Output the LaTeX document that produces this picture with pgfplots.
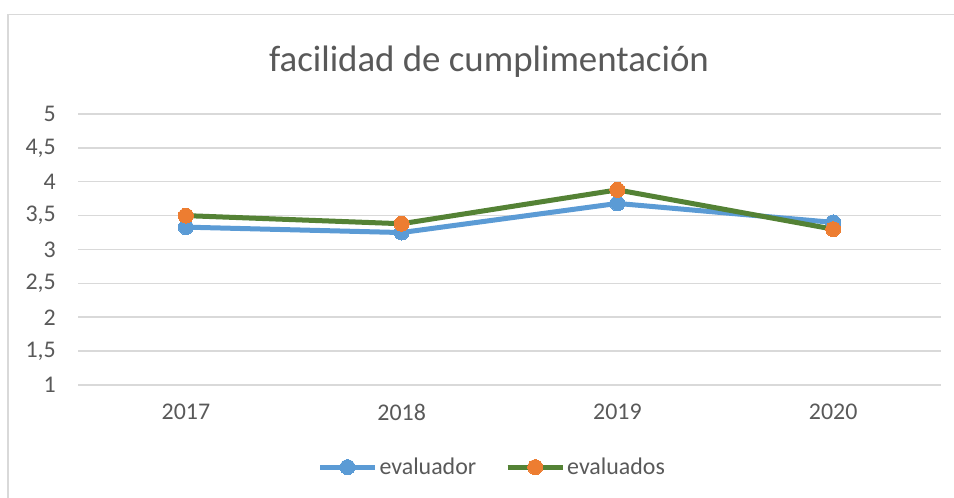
\documentclass[border=0pt]{standalone}
\usepackage{pgfplots}
\pgfplotsset{compat=1.18}
\usepackage{fontspec}
\setmainfont{Carlito}
\definecolor{cblue}{HTML}{5B9BD5}
\definecolor{cgreen}{HTML}{548235}
\definecolor{corange}{HTML}{ED7D31}
\definecolor{ctext}{HTML}{595959}
\definecolor{cgrid}{HTML}{D9D9D9}
\begin{document}
\begin{tikzpicture}[x=1bp,y=1bp]
\useasboundingbox (0,0) rectangle (954,498);
\fill[white] (0,0) rectangle (954,498);
\draw[cgrid, line width=1.5bp] (8,0) -- (8,483.5) -- (954,483.5);
\node[anchor=base, text=ctext, font=\fontsize{37}{44}\selectfont, inner sep=0pt] at (489,426) {facilidad de cumplimentación};
\begin{axis}[
  at={(78bp,113bp)}, anchor=south west,
  scale only axis, width=863bp, height=271bp,
  xmin=-0.5, xmax=3.5, ymin=1, ymax=5,
  xtick={0,1,2,3}, xticklabels={2017,2018,2019,2020},
  ytick={1,1.5,2,2.5,3,3.5,4,4.5,5},
  /pgf/number format/assume math mode=true,
  /pgf/number format/use comma,
  axis line style={draw=none},
  major tick length=0pt,
  ymajorgrids, grid style={cgrid, line width=1.5bp},
  tick label style={text=ctext, font=\fontsize{24}{28}\selectfont, inner sep=0pt},
  yticklabel style={anchor=east, xshift=-22bp},
  xticklabel style={anchor=north, yshift=-19bp},
  clip=false,
  legend columns=2,
  legend style={at={(0.48,-0.303)}, anchor=center, draw=none, fill=none,
    font=\fontsize{24}{28}\selectfont, text=ctext,
    /tikz/every even column/.append style={column sep=27bp},
    inner sep=0pt, nodes={inner sep=2bp}},
  legend image code/.code={\draw[mark repeat=2,mark phase=2,#1] plot coordinates {(0bp,0bp) (27.5bp,0bp) (55bp,0bp)};},
]
\addplot[cblue, line width=5bp, mark=*, mark size=7.5bp, mark options={fill=cblue, draw=cblue, line width=0pt}]
  coordinates {(0,3.33) (1,3.25) (2,3.68) (3,3.40)};
\addlegendentry{evaluador}
\addplot[cgreen, line width=5bp, mark=*, mark size=7.5bp, mark options={fill=corange, draw=corange, line width=0pt}]
  coordinates {(0,3.50) (1,3.38) (2,3.88) (3,3.30)};
\addlegendentry{evaluados}
\end{axis}
\end{tikzpicture}
\end{document}
